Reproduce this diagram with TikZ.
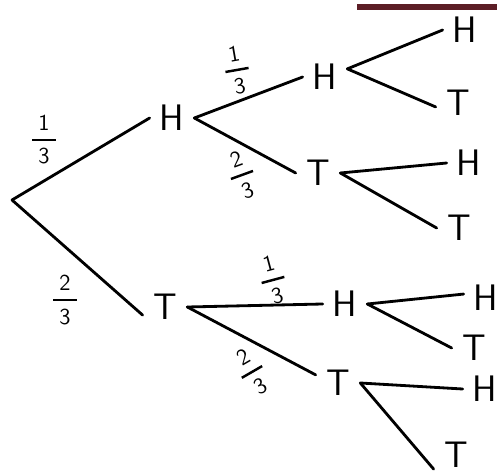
\documentclass[tikz,border=0pt]{standalone}
\usepackage{amsmath}
\definecolor{inkred}{RGB}{92,30,38}
\tikzset{
    outcome/.style={font=\sffamily\fontsize{21}{21}\selectfont, minimum width=0.88cm, minimum height=0.55cm, inner sep=0pt},
    prob/.style={font=\sffamily\fontsize{13}{13}\selectfont, inner sep=0pt},
    branch/.style={line width=1.6pt, line cap=round},
}
\newcommand{\pfrac}[2]{$\genfrac{}{}{1.4pt}{0}{\hspace{3.5pt}\textsf{#1}\hspace{3.5pt}}{\textsf{#2}}$}

\begin{document}
\begin{tikzpicture}[x=0.02cm, y=-0.02cm]
    \useasboundingbox (0,0) rectangle (497,476);
    % underline left over from the heading
    \draw[inkred, line width=3.5pt] (357,7) -- (505,7);

    % first toss
    \coordinate (start) at (12,200);
    \node[outcome] (h) at (172,118) {H};
    \node[outcome] (t) at (165,307) {T};
    \node[prob] (ph) at (44,140) {\pfrac{1}{3}};
    \node[prob] (pt) at (65,300) {\pfrac{2}{3}};

    % second toss
    \node[outcome] (hh) at (325,77) {H};
    \node[outcome] (ht) at (318,173) {T};
    \node[outcome] (th) at (345,304) {H};
    \node[outcome] (tt) at (338,383) {T};
    \node[prob, rotate=10] (phh) at (237,70) {\pfrac{1}{3}};
    \node[prob, rotate=20] (pht) at (242,175) {\pfrac{2}{3}};
    \node[prob, rotate=15] (pth) at (273,280) {\pfrac{1}{3}};
    \node[prob, rotate=30] (ptt) at (252,372) {\pfrac{2}{3}};

    % third toss
    \node[outcome] (hhh) at (465,30) {H};
    \node[outcome] (hht) at (458,103) {T};
    \node[outcome] (hth) at (469,163) {H};
    \node[outcome] (htt) at (459,228) {T};
    \node[outcome] (thh) at (486,298) {H};
    \node[outcome] (tht) at (474,348) {T};
    \node[outcome] (tth) at (485,389) {H};
    \node[outcome] (ttt) at (456,455) {T};

    % branches
    \draw[branch] (start) -- (h.west);
    \draw[branch] (start) -- (t.200);
    \draw[branch] (h.east) -- (hh.west);
    \draw[branch] (h.east) -- (ht.west);
    \draw[branch] (t.east) -- (th.west);
    \draw[branch] (t.east) -- (tt.160);
    \draw[branch] (hh.20) -- (hhh.west);
    \draw[branch] (hh.20) -- (hht.190);
    \draw[branch] (ht.east) -- (hth.west);
    \draw[branch] (ht.east) -- (htt.west);
    \draw[branch] (th.east) -- (thh.170);
    \draw[branch] (th.east) -- (tht.west);
    \draw[branch] (tt.east) -- (tth.west);
    \draw[branch] (tt.east) -- (ttt.south west);
\end{tikzpicture}
\end{document}
